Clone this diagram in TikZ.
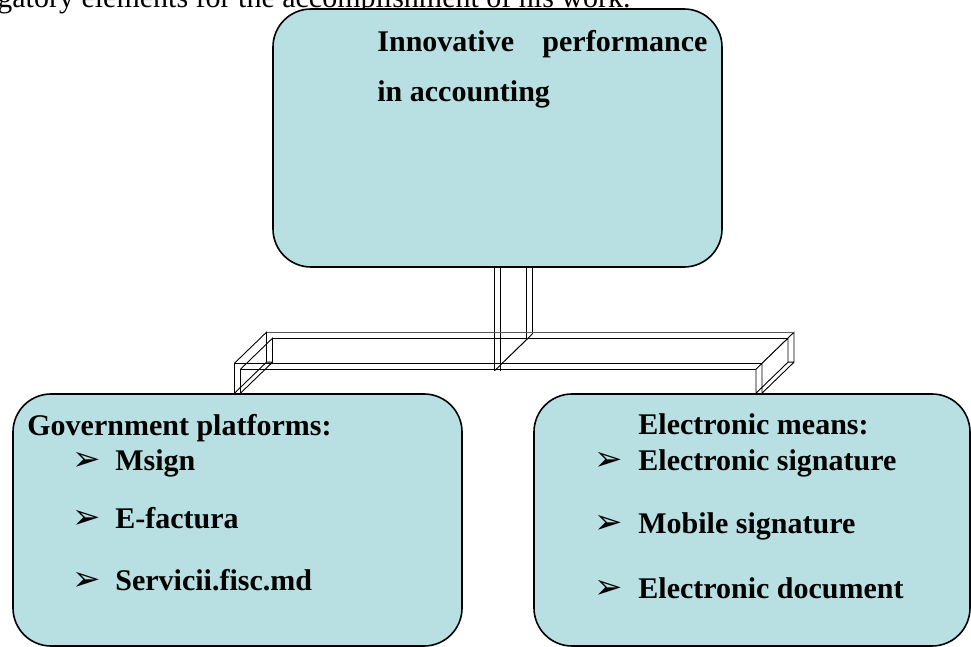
\documentclass[tikz,border=0pt]{standalone}
\usepackage{fontspec}
\setmainfont{Liberation Serif}
\newfontfamily\dejavu{DejaVu Sans}
\usetikzlibrary{calc}
\definecolor{boxblue}{RGB}{184,224,227}
\tikzset{>=latex}
\newcommand{\arr}{{\dejavu\fontsize{17}{18}\selectfont\char"27A2}}

\begin{document}
\begin{tikzpicture}[x=0.5pt, y=-0.5pt,
  box/.style={draw, line width=0.8pt, fill=boxblue, rounded corners=19pt, inner sep=0pt},
  txt/.style={anchor=base west, inner sep=0pt, font=\fontsize{15}{18}\selectfont\bfseries},
  wire/.style={line width=0.45pt}]
\useasboundingbox (0,0) rectangle (971,647);

\node[anchor=base west, inner sep=0pt, font=\fontsize{15}{18}\selectfont] (cap) at (-3,8)
  {gatory elements for the accomplishment of his work.};

% boxes
\node[box, minimum width=224.5pt, minimum height=129pt] (top) at (497.5,138) {};
\node[box, minimum width=224.5pt, minimum height=126pt] (gov) at (237.5,520) {};
\node[box, minimum width=218pt, minimum height=126pt] (elec) at (752,520) {};

% 3d connector
\coordinate (T) at (top.south);
\coordinate (L) at (gov.north);
\coordinate (R) at ($(elec.north)+(7,0)$);
\begin{scope}[shift={(T)}]
\draw[wire] (-3,0) -- (-3,103) (3,0) -- (3,103)
  (29,0) -- (29,72) -- (-3,103) (35,0) -- (35,66) -- (3,97);
\end{scope}
\begin{scope}[shift={(L)}]
\draw[wire] (-3,0) -- (-3,-30) -- (29,-61) -- (29,-31) -- (-3,0)
  (3,0) -- (3,-24) -- (35,-55) -- (35,-31) -- (3,0) (29,-31) -- (35,-31);
\end{scope}
\begin{scope}[shift={(R)}]
\draw[wire] (3,0) -- (3,-30) -- (35,-61) -- (35,-31) -- (3,0)
  (-3,0) -- (-3,-24) -- (29,-55) -- (29,-31) -- (-3,0) (29,-31) -- (35,-31);
\end{scope}
\draw[wire] ($(L)+(-3,-30)$) -- ($(R)+(3,-30)$)
  ($(L)+(3,-24)$) -- ($(R)+(-3,-24)$);
\draw[wire, gray!70!black] ($(L)+(29,-61)$) -- ($(R)+(35,-61)$);
\draw[wire] ($(L)+(35,-55)$) -- ($(R)+(29,-55)$);

% texts
\node[txt] (t1) at (377,52) {\makebox[165pt][l]{Innovative\hfill performance}};
\node[txt] (t2) at (377,102) {in accounting};

\node[txt] (g0) at (27,436) {Government platforms:};
\node[txt] (g1b) at (72,470) {\arr};
\node[txt] (g1) at (115,470) {Msign};
\node[txt] (g2b) at (72,528) {\arr};
\node[txt] (g2) at (115,528) {E-factura};
\node[txt] (g3b) at (72,590) {\arr};
\node[txt] (g3) at (115,590) {Servicii.fisc.md};

\node[txt] (e0) at (638,435) {Electronic means:};
\node[txt] (e1b) at (594,470) {\arr};
\node[txt] (e1) at (638,470) {Electronic signature};
\node[txt] (e2b) at (594,533) {\arr};
\node[txt] (e2) at (638,533) {Mobile signature};
\node[txt] (e3b) at (594,598) {\arr};
\node[txt] (e3) at (638,598) {Electronic document};
\end{tikzpicture}
\end{document}
